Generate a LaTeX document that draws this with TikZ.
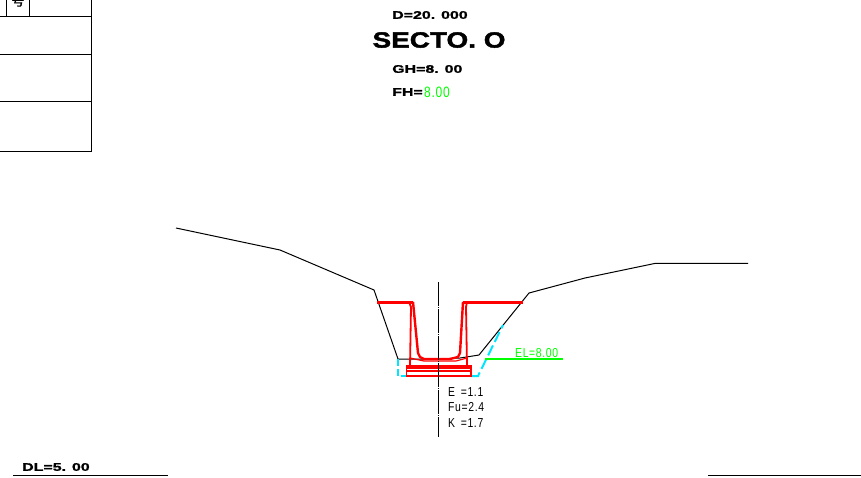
\documentclass[tikz,border=0pt]{standalone}
\usepackage{fontspec}
\setmainfont{Liberation Sans}
\newfontfamily\cadtitle[FakeStretch=1.27,FakeBold=2]{Liberation Sans Bold}
\newfontfamily\cadwide[FakeStretch=1.45,FakeBold=1.6]{Liberation Sans Bold}
\newfontfamily\cadthin[FakeStretch=0.8,LetterSpace=5]{Liberation Sans}
\newfontfamily\cadcjk[FakeBold=1]{Noto Sans CJK SC}
\definecolor{cadgreen}{RGB}{0,255,0}
\definecolor{cadcyan}{RGB}{0,230,255}
\definecolor{cadred}{RGB}{255,0,0}
\tikzset{
    widelabel/.style={anchor=west, inner sep=0pt, font=\cadwide\fontsize{11}{11}\selectfont},
    thinlabel/.style={anchor=west, inner sep=0pt, font=\cadthin\fontsize{13}{13}\selectfont},
    greenlabel/.style={thinlabel, text=cadgreen},
    ground/.style={draw=black, line width=1pt},
    gutter/.style={draw=cadred, line width=1.8pt},
    frameline/.style={draw=black, line width=1pt}
}

\begin{document}
\begin{tikzpicture}[x=1pt, y=-1pt]
    \useasboundingbox (0, 0) rectangle (861, 477);

    % table corner
    \draw[frameline] (91, 0) -- (91, 151) -- (0, 151);
    \draw[frameline] (0, 16) -- (91, 16);
    \draw[frameline] (0, 54) -- (91, 54);
    \draw[frameline] (0, 101) -- (91, 101);
    \draw[frameline] (6, 0) -- (6, 16);
    \draw[frameline] (29, 0) -- (29, 16);
    \node[inner sep=0pt, font=\cadcjk\fontsize{13}{13}\selectfont] (tablemark) at (18, 1) {号};

    % headings
    \node[widelabel] (dist) at (392, 15) {D=20. 000};
    \node[anchor=center, inner sep=0pt, font=\cadtitle\fontsize{22}{22}\selectfont] (title) at (439, 40) {SECTO. O};
    \node[widelabel] (gh) at (392, 69) {GH=8. 00};
    \node[widelabel] (fh) at (392, 92) {FH=};
    \node[greenlabel, font=\cadthin\fontsize{15}{15}\selectfont] (fhval) at (424, 92) {8.00};

    % ground line
    \draw[ground] (176, 228) -- (280, 250) -- (374, 290) -- (398, 359) -- (438, 359) -- (460, 358)
        -- (479, 355) -- (529, 293) -- (585, 278) -- (655, 263.4) -- (748, 263.4);

    % excavation
    \draw[cadcyan, line width=2pt, dash pattern=on 7pt off 3pt] (398, 359) -- (398, 376) -- (407, 376);
    \draw[cadcyan, line width=2pt, dash pattern=on 11pt off 4pt] (471, 376) -- (478, 376) -- (503, 325);

    % gutter
    \draw[gutter, line width=3pt] (377, 302) -- (413, 302);
    \draw[gutter, line width=3pt] (463, 302) -- (523, 302);
    \draw[gutter, line width=2.4pt] (413, 302) -- (418, 353) -- (420, 357) -- (424, 359) -- (450, 359)
        -- (458, 357) -- (460, 353) -- (463, 302);
    \draw[gutter] (413, 302) -- (409, 302) -- (411, 307) -- (410, 366);
    \draw[gutter] (463, 302) -- (467, 302) -- (466, 307) -- (467, 366);
    \draw[gutter, line width=1.2pt] (410, 358) -- (424, 361) -- (456, 361) -- (467, 358);

    % base slab
    \draw[gutter, line width=1.5pt] (406.5, 366) rectangle (471, 376);
    \draw[gutter, line width=3.2pt] (406.5, 367.5) -- (471, 367.5);
    \draw[gutter, line width=1.2pt] (406.5, 371) -- (471, 371);

    % centre line
    \draw[black, line width=1.8pt, dash pattern=on 24pt off 1pt on 1pt off 1pt] (438.5, 282) -- (438.5, 437);

    % design level
    \draw[cadgreen, line width=2.2pt] (485, 359) -- (563, 359);
    \node[greenlabel] (el) at (515, 353) {EL=8.00};

    % depths
    \node[thinlabel] (depthe) at (448, 392) {E \,=1.1};
    \node[thinlabel] (depthf) at (448, 407) {Fu=2.4};
    \node[thinlabel] (depthk) at (448, 423) {K \,=1.7};

    % datum
    \node[widelabel] (datum) at (22, 467) {DL=5. 00};
    \draw[frameline] (13, 475) -- (168, 475);
    \draw[frameline] (708, 475) -- (861, 475);
\end{tikzpicture}
\end{document}
